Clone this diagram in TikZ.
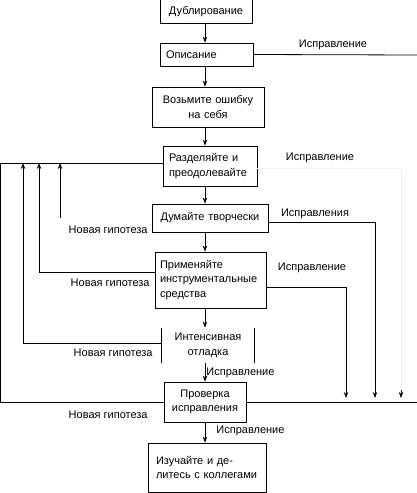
\documentclass[tikz,border=0pt]{standalone}
\usepackage{fontspec}
\setmainfont{Liberation Sans}
\usepackage{tikz}
\usetikzlibrary
  {
    arrows.meta, % arrow heads
    positioning, % place nodes relative to other nodes
    calc,
  }

\begin{document}
\begin{tikzpicture}
    [
      x=1pt, y=-1pt,
      line width=0.8pt,
      % Styles
      flow/.style={->, >={Stealth[length=6pt,width=4.5pt]}},
      box/.style={draw, inner xsep=6pt, inner ysep=2pt,
        font=\fontsize{11}{14.5}\selectfont},
      label text/.style={inner sep=1pt, font=\fontsize{11}{13}\selectfont},
      faint/.style={draw=black!6}
    ]

    \useasboundingbox (0,0) rectangle (417,493);

    % main column
    \node [box, text width=80pt, align=center, minimum height=24pt] (dubl) at (206,11.5) {Дублирование};
    \node [box, text width=81pt, align=left, minimum height=23pt] (opis) at (206.5,54.5) {Описание};
    \node [box, text width=100pt, align=center, minimum height=40pt] (vozm) at (208,107) {Возьмите ошибку\\на себя};
    \node [box, text width=82pt, align=left, minimum height=40pt] (razd) at (210,166) {Разделяйте и\\преодолевайте};
    \node [box, text width=104pt, align=center, minimum height=28pt] (dumai) at (210,218) {Думайте творчески};
    \node [box, inner xsep=5pt, text width=101pt, align=left, minimum height=56pt] (prim) at (210.5,280) {Применяйте\\инструментальные\\средства};
    \node [box, draw=none, text width=80pt, align=center, minimum height=35pt] (inten) at (208,345.5) {Интенсивная\\отладка};
    \node [box, text width=70pt, align=center, minimum height=40pt] (prov) at (205,402) {Проверка\\исправления};
    \node [box, inner xsep=8pt, text width=102pt, align=left, minimum height=49pt] (izuch) at (207,467.5) {Изучайте и де-\\литесь с коллегами};

    % sides of the debugging box
    \draw (inten.north west) -- (inten.south west);
    \draw (inten.north east) -- (inten.south east);

    % downward arrows
    \coordinate (axis) at (205,0);
    \foreach \a/\b in {dubl/opis, opis/vozm, vozm/razd, razd/dumai, dumai/prim, prim/inten}
    {
      \draw [flow] (\a.south -| axis) -- (\b.north -| axis);
    }
    \draw [flow] (inten.south -| axis) -- node [right, label text] {Исправление} (prov.north -| axis);
    \draw [flow] (prov.south -| axis) -- node [right, label text, xshift=10pt, yshift=2pt] {Исправление} (izuch.north -| axis);

    % corrections, right side
    \coordinate (fixA) at (418,55);
    \coordinate (fixB) at (401,398);
    \coordinate (fixC) at (375,398);
    \coordinate (fixD) at (346,398);
    \coordinate (fixE) at (418,402);

    \draw (opis.east) -- (fixA);
    \draw [faint] ([yshift=-2pt]razd.east) -| (401,390);
    \draw [flow] (401,390) -- (fixB);
    \draw [flow] ([yshift=-4pt]dumai.east) -| (fixC);
    \draw [flow] ([yshift=-7pt]prim.east) -| (fixD);
    \draw (prov.east) -- (fixE);

    \node [label text] (fix1) at (333,45) {Исправление};
    \node [label text] (fix2) at (320,158) {Исправление};
    \node [label text] (fix3) at (315,214) {Исправления};
    \node [label text] (fix4) at (312,268) {Исправление};

    % new hypotheses, left side
    \coordinate (hypA) at (23,163);
    \coordinate (hypB) at (39,163);
    \coordinate (hypC) at (60,163);
    \coordinate (hypC start) at (60,218);

    \draw (prov.west) -- (0.5,402) |- ([yshift=3pt]razd.west);
    \draw [flow] ([yshift=2pt]inten.west) -| (hypA);
    \draw [flow] ([yshift=8pt]prim.west) -| (hypB);
    \draw [flow] (hypC start) -- (hypC);

    \node [label text, anchor=east] (hyp1) at (149,230) {Новая гипотеза};
    \node [label text, anchor=east] (hyp2) at (151,283) {Новая гипотеза};
    \node [label text, anchor=east] (hyp3) at (154,353) {Новая гипотеза};
    \node [label text, anchor=east] (hyp4) at (149,415) {Новая гипотеза};
\end{tikzpicture}
\end{document}
